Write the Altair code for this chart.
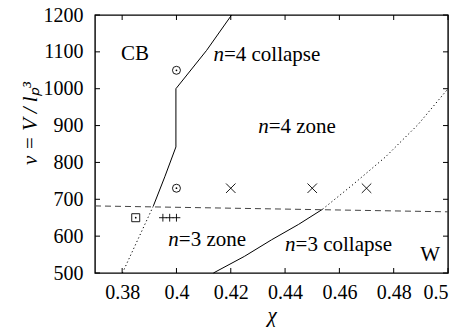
import altair as alt
import pandas as pd

FONT = "Liberation Serif"
W, H = 353, 258

x_ticks = [0.38, 0.40, 0.42, 0.44, 0.46, 0.48, 0.50]
y_ticks = [500, 600, 700, 800, 900, 1000, 1100, 1200]

# n=4 collapse boundary (solid)
b4_x = [0.3915, 0.3957, 0.3998, 0.3998, 0.4111, 0.4203]
b4_y = [682, 761, 842, 1000, 1104, 1200]
# left dotted boundary
d_left_x = [0.3801, 0.3915]
d_left_y = [500, 682]
# n=3 collapse boundary (solid)
b3_x = [0.4136, 0.425, 0.435, 0.445, 0.4538]
b3_y = [500, 545, 590, 632, 673]
# dotted continuation
d_right_x = [0.4538, 0.465, 0.477, 0.489, 0.5]
d_right_y = [673, 740, 815, 903, 1000]
# dashed near-horizontal
dash_x = [0.37, 0.5]
dash_y = [682, 666]

# markers
circ_x = [0.40, 0.40]
circ_y = [1050, 730]
cross_x = [0.42, 0.45, 0.47]
cross_y = [730, 730, 730]
square_x = [0.385]
square_y = [650]
plus_x = [0.395, 0.3975, 0.40]
plus_y = [650, 650, 650]

# region labels with italic n
nlab_rest = ["=4 collapse", "=4 zone", "=3 zone", "=3 collapse"]
nlab_x = [0.4136, 0.4301, 0.3970, 0.4400]
nlab_y = [1092, 896, 590, 576]
plain_lab = ["CB", "W"]
plain_x = [0.3847, 0.4934]
plain_y = [1095, 549]


def df(xs, ys):
    return pd.DataFrame({"x": xs, "y": ys, "o": list(range(len(xs)))})


xs = alt.Scale(domain=[0.37, 0.5], nice=False, zero=False)
ys = alt.Scale(domain=[500, 1200], nice=False, zero=False)

xenc = alt.X("x:Q", scale=xs, axis=alt.Axis(
    values=x_ticks, format="~g", title="χ", ticks=False, tickSize=0, domain=False,
    grid=False, labelPadding=9, titleFontStyle="italic", titleFontWeight="normal",
    titleFontSize=21, titleY=48, titleBaseline="alphabetic"))
yenc = alt.Y("y:Q", scale=ys, axis=alt.Axis(
    values=y_ticks, format="d", title="ν = V / lₚ³", ticks=False, tickSize=0, domain=False,
    grid=False, labelPadding=12, titleFontWeight="normal", titleFontSize=21,
    titleFontStyle="italic",
    titleX=-59, titleY=108, titleBaseline="alphabetic", titleAngle=-90))


def line(xv, yv, dash=None, color="black", width=1.0):
    kw = dict(color=color, strokeWidth=width)
    if dash:
        kw["strokeDash"] = dash
    return alt.Chart(df(xv, yv)).mark_line(**kw).encode(x=xenc, y=yenc, order="o:Q")


layers = [
    line(b4_x, b4_y),
    line(d_left_x, d_left_y, dash=[1.2, 2.6]),
    line(b3_x, b3_y),
    line(d_right_x, d_right_y, dash=[1.2, 2.6]),
    line(dash_x, dash_y, dash=[6, 4], color="#444444"),
]

# markers
layers.append(alt.Chart(df(circ_x, circ_y)).mark_point(
    shape="circle", filled=False, size=64, color="black", strokeWidth=0.9, opacity=1
).encode(x=xenc, y=yenc))
layers.append(alt.Chart(df(circ_x + square_x, circ_y + square_y)).mark_point(
    shape="circle", filled=True, size=3, color="black", opacity=1
).encode(x=xenc, y=yenc))
layers.append(alt.Chart(df(square_x, square_y)).mark_point(
    shape="square", filled=False, size=64, color="black", strokeWidth=0.9, opacity=1
).encode(x=xenc, y=yenc))
layers.append(alt.Chart(df(cross_x, cross_y)).mark_point(
    shape="M-1,-1L1,1M1,-1L-1,1", filled=False, size=90, color="black", strokeWidth=0.9, opacity=1
).encode(x=xenc, y=yenc))
layers.append(alt.Chart(df(plus_x, plus_y)).mark_point(
    shape="M-1,0L1,0M0,-1L0,1", filled=False, size=60, color="black", strokeWidth=0.9, opacity=1
).encode(x=xenc, y=yenc))

# inward ticks on all sides
tx = pd.DataFrame({"x": x_ticks})
ty = pd.DataFrame({"y": y_ticks})
layers.append(alt.Chart(tx).mark_rule(color="black", strokeWidth=1).encode(
    x=xenc, y=alt.value(H), y2=alt.value(H - 5)))
layers.append(alt.Chart(tx).mark_rule(color="black", strokeWidth=1).encode(
    x=xenc, y=alt.value(0), y2=alt.value(5)))
layers.append(alt.Chart(ty).mark_rule(color="black", strokeWidth=1).encode(
    y=yenc, x=alt.value(0), x2=alt.value(5)))
layers.append(alt.Chart(ty).mark_rule(color="black", strokeWidth=1).encode(
    y=yenc, x=alt.value(W), x2=alt.value(W - 5)))

# labels
ldf = pd.DataFrame({"x": nlab_x, "y": nlab_y, "t": nlab_rest})
layers.append(alt.Chart(ldf).mark_text(
    text="n", font=FONT, fontSize=21, fontStyle="italic", align="left", baseline="middle", color="black"
).encode(x=xenc, y=yenc))
layers.append(alt.Chart(ldf).mark_text(
    font=FONT, fontSize=21, align="left", baseline="middle", dx=10.5, color="black"
).encode(x=xenc, y=yenc, text="t:N"))
pdf = pd.DataFrame({"x": plain_x, "y": plain_y, "t": plain_lab})
layers.append(alt.Chart(pdf).mark_text(
    font=FONT, fontSize=21, align="center", baseline="middle", color="black"
).encode(x=xenc, y=yenc, text="t:N"))

chart = alt.layer(*layers).properties(
    width=W, height=H, autosize="none",
    padding={"left": 95, "top": 15, "right": 15, "bottom": 54},
    background="white",
).configure_view(
    stroke="black", strokeWidth=1.4
).configure_axis(
    labelFont=FONT, titleFont=FONT, labelFontSize=20, labelColor="black", titleColor="black"
)

chart.save("out.html", embed_options={"renderer": "svg", "actions": False})
